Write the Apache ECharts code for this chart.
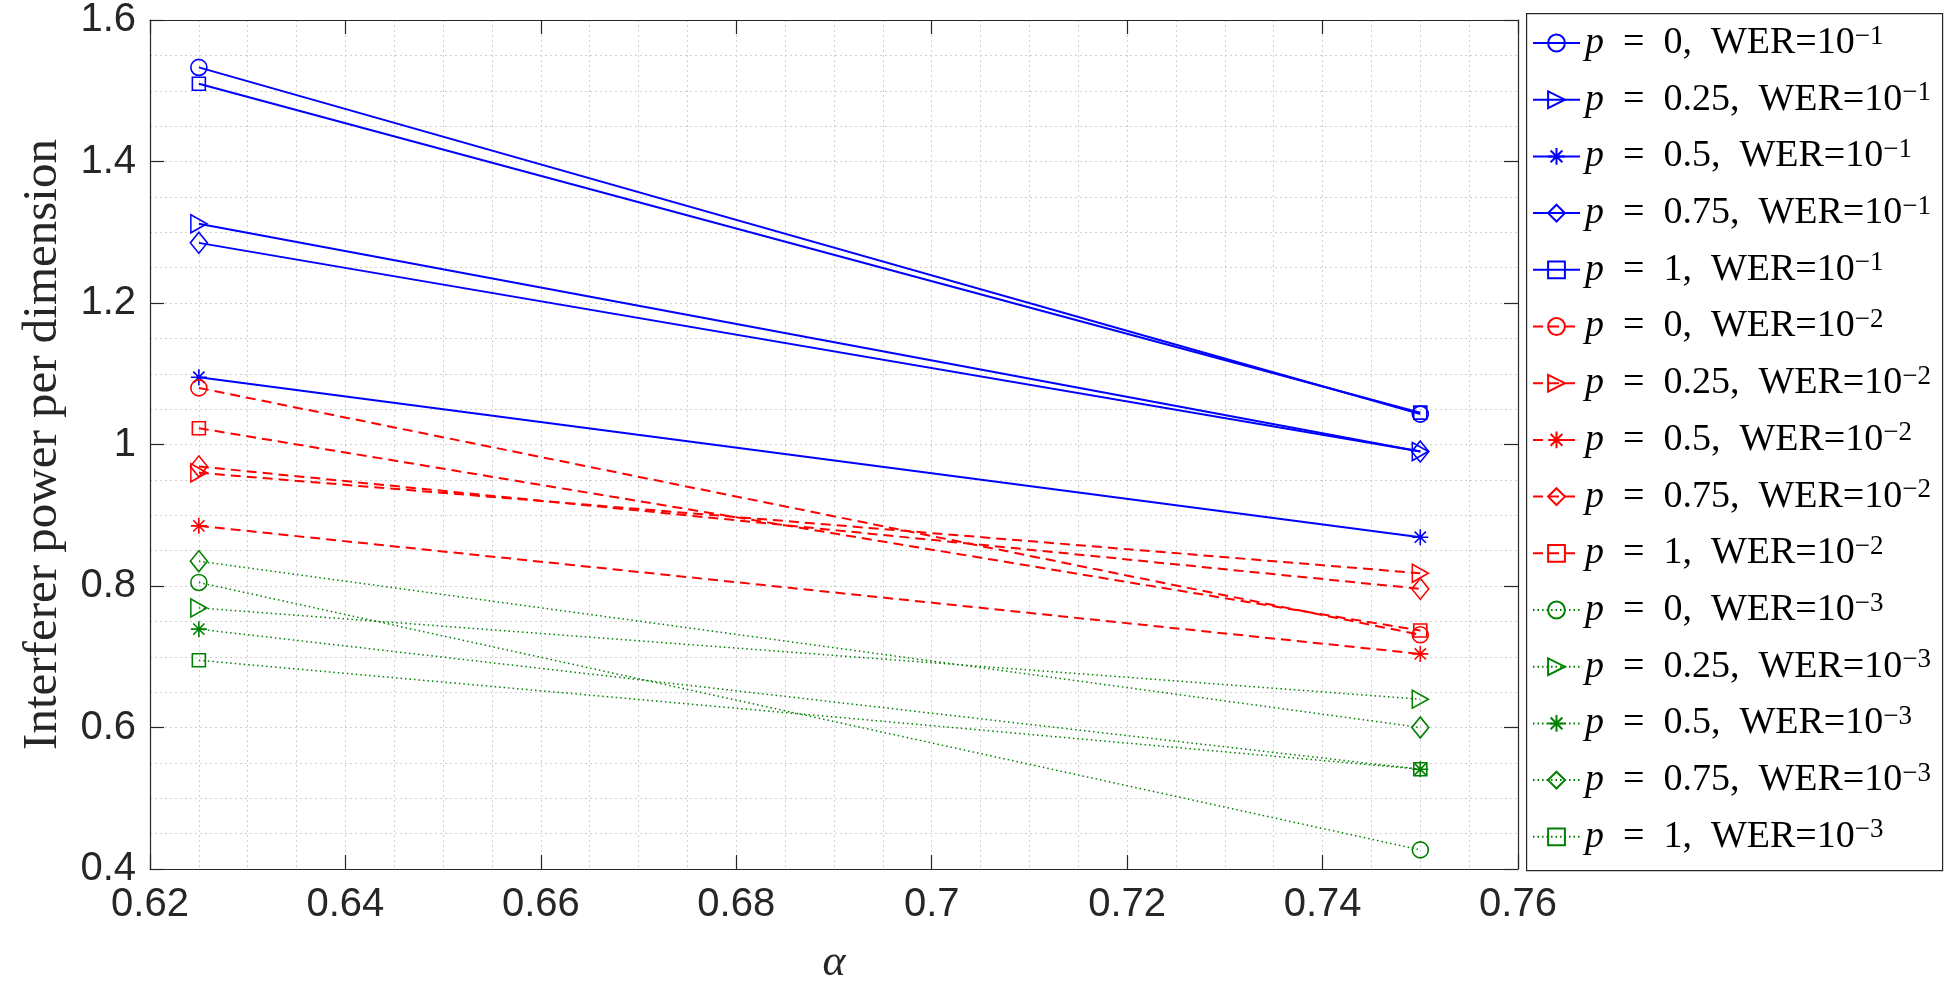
<!DOCTYPE html>
<html>
<head>
<meta charset="utf-8">
<script src="https://cdn.jsdelivr.net/npm/echarts@6/dist/echarts.min.js"></script>
<style>
html,body{margin:0;padding:0;background:#fff;}
#chart{width:1959px;height:990px;}
</style>
</head>
<body>
<div id="chart"></div>
<script>
// ---- data ----
const alpha = [0.625, 0.75];
const pLabels = ['0', '0.25', '0.5', '0.75', '1'];
const werExps = ['\u22121', '\u22122', '\u22123'];
// interferer power per dimension, rows = p (0, 0.25, 0.5, 0.75, 1), cols = alpha
const werE1 = [[1.533, 1.043], [1.312, 0.990], [1.095, 0.869], [1.285, 0.990], [1.510, 1.045]];
const werE2 = [[1.080, 0.731], [0.960, 0.818], [0.885, 0.704], [0.969, 0.796], [1.023, 0.737]];
const werE3 = [[0.805, 0.427], [0.769, 0.640], [0.739, 0.541], [0.835, 0.600], [0.695, 0.541]];
const xTicks = { min: 0.62, max: 0.76, interval: 0.02 };
const yTicks = { min: 0.4, max: 1.6, interval: 0.2 };

// ---- styles ----
const groups = [
  { vals: werE1, color: '#0000ff', type: 'solid', width: 2 },
  { vals: werE2, color: '#ff0000', type: [10, 6], width: 2 },
  { vals: werE3, color: '#008000', type: [1.5, 3], width: 1.5 }
];
const markers = [
  { symbol: 'circle', size: 16 },
  { symbol: 'path://M0,0L10,5L0,10Z', size: [16, 18] },
  { symbol: 'path://M5,0L5,10M0,5L10,5M1.5,1.5L8.5,8.5M1.5,8.5L8.5,1.5', size: 16 },
  { symbol: 'diamond', size: [17, 21] },
  { symbol: 'rect', size: 13 }
];

const series = [];
groups.forEach((g, gi) => {
  g.vals.forEach((row, pi) => {
    series.push({
      type: 'line',
      name: 'p' + pi + '_' + gi,
      data: alpha.map((a, k) => [a, row[k]]),
      symbol: markers[pi].symbol,
      symbolSize: markers[pi].size,
      showAllSymbol: true,
      lineStyle: { color: g.color, width: g.width, type: g.type },
      itemStyle: { color: 'rgba(0,0,0,0)', borderColor: g.color, borderWidth: 1.6 },
      emphasis: { disabled: true },
      z: 3,
      _p: pLabels[pi], _w: werExps[gi]
    });
  });
});
const nameMap = {};
series.forEach(s => { nameMap[s.name] = { p: s._p, w: s._w }; });

const axisColor = '#262626';
const gridLine = { show: true, lineStyle: { color: '#cfcfcf', type: [2, 3], width: 1 } };
const tickFont = { fontFamily: 'Liberation Sans', fontSize: 40, color: axisColor };

const chart = echarts.init(document.getElementById('chart'), null, { renderer: 'canvas' });
chart.setOption({
  animation: false,
  backgroundColor: '#ffffff',
  grid: { left: 150, right: 441, top: 14, bottom: 114, containLabel: false },
  xAxis: [
    {
      type: 'value', min: xTicks.min, max: xTicks.max, interval: xTicks.interval,
      position: 'bottom',
      name: '\u03b1', nameLocation: 'middle', nameGap: 72,
      nameTextStyle: { fontFamily: 'Liberation Serif', fontStyle: 'italic', fontSize: 44, color: axisColor },
      axisLine: { show: true, onZero: false, lineStyle: { color: axisColor, width: 1.2 } },
      axisTick: { show: true, inside: true, length: 14, lineStyle: { color: axisColor, width: 1.2 } },
      axisLabel: Object.assign({ margin: 16 }, tickFont),
      splitLine: gridLine,
      minorTick: { show: false, splitNumber: 4 },
      minorSplitLine: gridLine
    },
    {
      type: 'value', min: xTicks.min, max: xTicks.max, interval: xTicks.interval,
      position: 'top',
      axisLine: { show: true, onZero: false, lineStyle: { color: axisColor, width: 1.2 } },
      axisTick: { show: true, inside: true, length: 14, lineStyle: { color: axisColor, width: 1.2 } },
      axisLabel: { show: false },
      splitLine: { show: false }
    }
  ],
  yAxis: [
    {
      type: 'value', min: yTicks.min, max: yTicks.max, interval: yTicks.interval,
      position: 'left',
      name: 'Interferer power per dimension', nameLocation: 'middle', nameGap: 82, nameRotate: 90,
      nameTextStyle: { fontFamily: 'Liberation Serif', fontSize: 49, color: axisColor },
      axisLine: { show: true, onZero: false, lineStyle: { color: axisColor, width: 1.2 } },
      axisTick: { show: true, inside: true, length: 14, lineStyle: { color: axisColor, width: 1.2 } },
      axisLabel: Object.assign({ margin: 14 }, tickFont),
      splitLine: gridLine,
      minorTick: { show: false, splitNumber: 4 },
      minorSplitLine: gridLine
    },
    {
      type: 'value', min: yTicks.min, max: yTicks.max, interval: yTicks.interval,
      position: 'right',
      axisLine: { show: true, onZero: false, lineStyle: { color: axisColor, width: 1.2 } },
      axisTick: { show: true, inside: true, length: 14, lineStyle: { color: axisColor, width: 1.2 } },
      axisLabel: { show: false },
      splitLine: { show: false }
    }
  ],
  graphic: [{
    type: 'rect', left: 1526, top: 13, z: 0,
    shape: { width: 416, height: 857 },
    style: { fill: '#ffffff', stroke: axisColor, lineWidth: 1.2 }
  }],
  legend: {
    orient: 'vertical', left: 1532, top: 23, padding: 0,
    itemWidth: 47, itemHeight: 21, itemGap: 16.7,
    selectedMode: false,
    data: series.map(s => s.name),
    formatter: function (name) {
      const o = nameMap[name];
      return '{i|p}\u2002=\u2002' + o.p + ',\u2002WER=10{s|' + o.w + '}';
    },
    textStyle: {
      fontFamily: 'Liberation Serif', fontSize: 38, lineHeight: 40, color: '#000',
      rich: {
        i: { fontFamily: 'Liberation Serif', fontStyle: 'italic', fontSize: 38, lineHeight: 40, color: '#000' },
        s: { fontFamily: 'Liberation Serif', fontSize: 27, lineHeight: 27, verticalAlign: 'top', color: '#000' }
      }
    }
  },
  series: series
});
</script>
</body>
</html>
